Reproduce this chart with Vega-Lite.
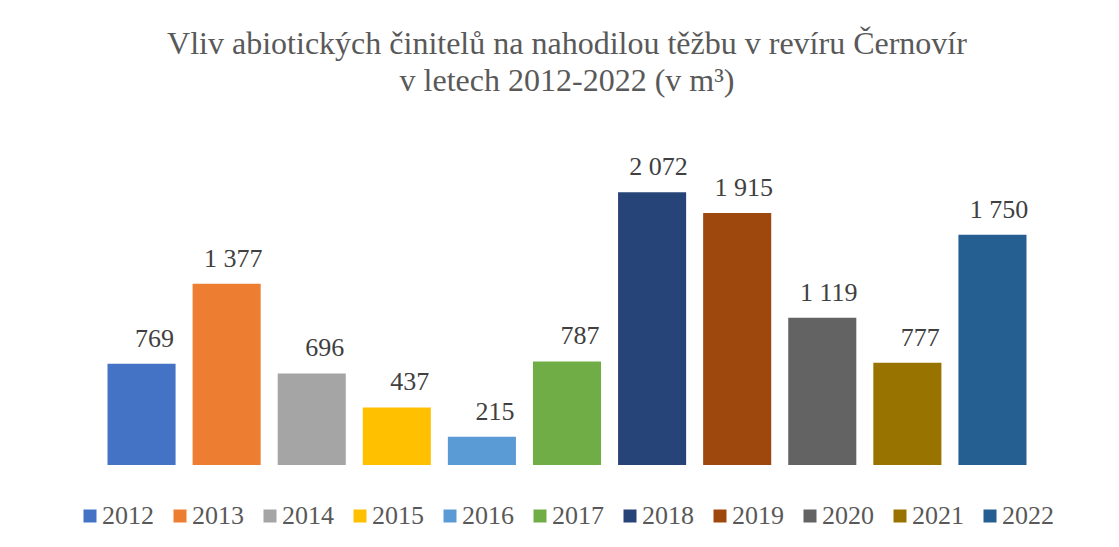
{
  "$schema": "https://vega.github.io/schema/vega-lite/v6.json",
  "width": 936,
  "height": 329,
  "autosize": {"type": "none"},
  "padding": {"left": 99, "top": 136, "right": 84, "bottom": 82},
  "background": "white",
  "config": {
    "view": {"stroke": null},
    "font": "Liberation Serif",
    "locale": {"number": {"decimal": ",", "thousands": " ", "grouping": [3], "currency": ["", " Kč"]}}
  },
  "title": {
    "text": ["Vliv abiotických činitelů na nahodilou těžbu v revíru Černovír", "v letech 2012-2022 (v m³)"],
    "font": "Liberation Serif",
    "fontSize": 32,
    "fontWeight": "normal",
    "color": "#595959",
    "lineHeight": 37,
    "anchor": "middle",
    "offset": 38
  },
  "data": {
    "values": [
      {"rok": "2012", "objem": 769},
      {"rok": "2013", "objem": 1377},
      {"rok": "2014", "objem": 696},
      {"rok": "2015", "objem": 437},
      {"rok": "2016", "objem": 215},
      {"rok": "2017", "objem": 787},
      {"rok": "2018", "objem": 2072},
      {"rok": "2019", "objem": 1915},
      {"rok": "2020", "objem": 1119},
      {"rok": "2021", "objem": 777},
      {"rok": "2022", "objem": 1750}
    ]
  },
  "encoding": {
    "x": {"field": "rok", "type": "nominal", "axis": null, "scale": {"paddingInner": 0.2, "paddingOuter": 0.1}},
    "y": {"field": "objem", "type": "quantitative", "axis": null, "scale": {"domain": [0, 2500], "nice": false}}
  },
  "layer": [
    {
      "mark": {"type": "bar"},
      "encoding": {
        "color": {
          "field": "rok",
          "type": "nominal",
          "scale": {
            "domain": ["2012", "2013", "2014", "2015", "2016", "2017", "2018", "2019", "2020", "2021", "2022"],
            "range": ["#4472C4", "#ED7D31", "#A5A5A5", "#FFC000", "#5B9BD5", "#70AD47", "#264478", "#9E480E", "#636363", "#997300", "#255E91"]
          },
          "legend": {
            "title": null,
            "orient": "none",
            "legendX": -22,
            "legendY": 367,
            "direction": "horizontal",
            "symbolType": "square",
            "symbolSize": 169,
            "symbolStrokeWidth": 0,
            "labelFont": "Liberation Serif",
            "labelFontSize": 26,
            "labelColor": "#595959",
            "labelOffset": -1,
            "columnPadding": 13,
            "labelLimit": 200
          }
        }
      }
    },
    {
      "transform": [{"filter": "datum.objem < 1000"}],
      "mark": {"type": "text", "baseline": "alphabetic", "align": "center", "dy": -17, "dx": 13, "fontSize": 26, "color": "#404040", "font": "Liberation Serif"},
      "encoding": {"text": {"field": "objem", "type": "quantitative", "format": ","}}
    },
    {
      "transform": [{"filter": "datum.objem >= 1000"}],
      "mark": {"type": "text", "baseline": "alphabetic", "align": "center", "dy": -17, "dx": 6.5, "fontSize": 26, "color": "#404040", "font": "Liberation Serif"},
      "encoding": {"text": {"field": "objem", "type": "quantitative", "format": ","}}
    }
  ]
}
